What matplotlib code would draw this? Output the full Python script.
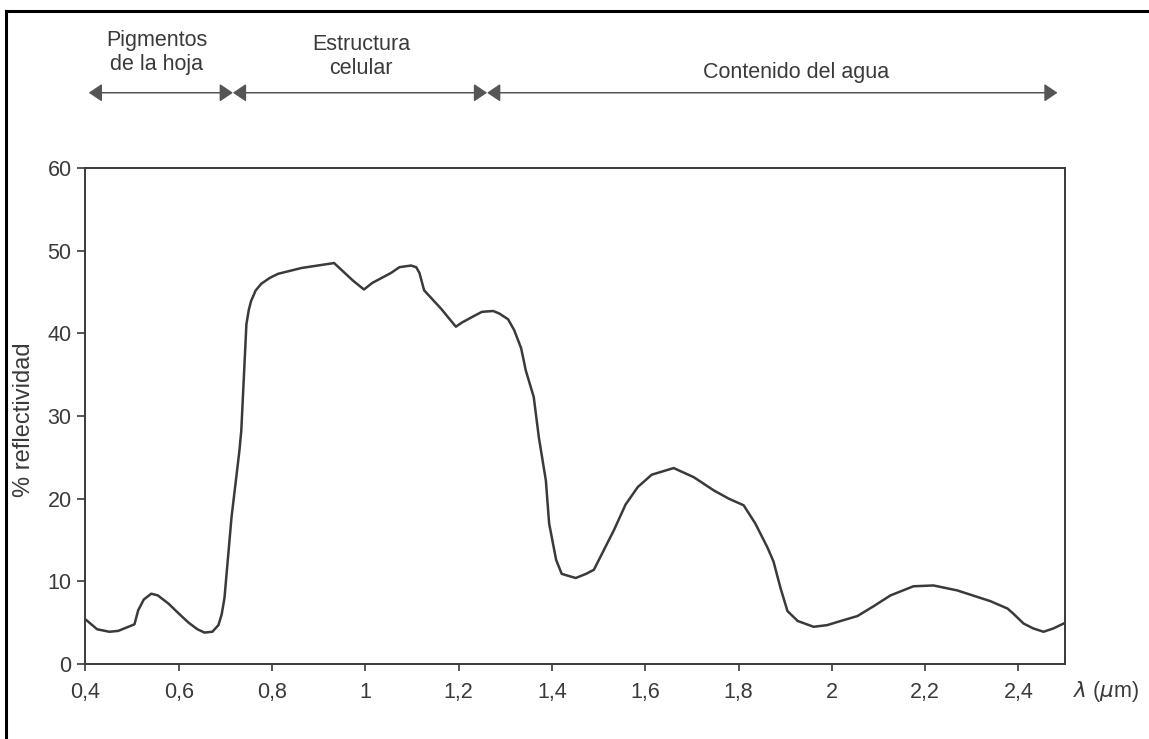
import matplotlib
matplotlib.use('Agg')
import matplotlib.pyplot as plt
from matplotlib.lines import Line2D

plt.rcParams['font.family'] = ['Liberation Sans', 'DejaVu Sans']
plt.rcParams['mathtext.fontset'] = 'dejavusans'

# wavelength (um) and % reflectance
wavelength = [0.402, 0.425, 0.451, 0.470, 0.492, 0.505, 0.513, 0.525, 0.541, 0.555,
              0.578, 0.600, 0.621, 0.640, 0.655, 0.672, 0.685, 0.692, 0.698, 0.713,
              0.730, 0.734, 0.745, 0.750, 0.755, 0.765, 0.777, 0.795, 0.813, 0.863,
              0.933, 0.973, 0.997, 1.015, 1.055, 1.073, 1.098, 1.109, 1.116, 1.126,
              1.162, 1.194, 1.207, 1.233, 1.250, 1.274, 1.287, 1.306, 1.319, 1.334,
              1.344, 1.361, 1.372, 1.387, 1.394, 1.409, 1.421, 1.451, 1.473, 1.490,
              1.533, 1.558, 1.584, 1.614, 1.661, 1.704, 1.747, 1.779, 1.811, 1.836,
              1.862, 1.875, 1.890, 1.905, 1.927, 1.961, 1.990, 2.019, 2.055, 2.090,
              2.126, 2.175, 2.218, 2.269, 2.340, 2.377, 2.389, 2.411, 2.432, 2.454,
              2.475, 2.501]
reflectance = [5.3, 4.2, 3.9, 4.0, 4.5, 4.8, 6.5, 7.8, 8.5, 8.3,
               7.3, 6.1, 5.0, 4.2, 3.8, 3.9, 4.7, 6.0, 8.0, 17.7,
               25.8, 28.2, 41.1, 42.8, 43.9, 45.2, 46.0, 46.7, 47.2, 47.9,
               48.5, 46.4, 45.3, 46.1, 47.3, 48.0, 48.2, 48.0, 47.3, 45.2,
               43.0, 40.8, 41.3, 42.1, 42.6, 42.7, 42.4, 41.7, 40.4, 38.2,
               35.5, 32.3, 27.4, 22.2, 17.0, 12.6, 10.9, 10.4, 10.9, 11.4,
               16.2, 19.3, 21.4, 22.9, 23.7, 22.6, 21.0, 20.0, 19.2, 17.0,
               14.1, 12.4, 9.2, 6.4, 5.2, 4.5, 4.7, 5.2, 5.8, 7.0,
               8.3, 9.4, 9.5, 8.9, 7.6, 6.7, 6.1, 4.9, 4.3, 3.9,
               4.3, 5.0]

xticks = [0.4, 0.6, 0.8, 1.0, 1.2, 1.4, 1.6, 1.8, 2.0, 2.2, 2.4]
xtick_labels = ['0,4', '0,6', '0,8', '1', '1,2', '1,4', '1,6', '1,8', '2', '2,2', '2,4']
yticks = [0, 10, 20, 30, 40, 50, 60]

# spectral regions along the top: boundaries and labels
region_edges = [0.407, 0.716, 1.261, 2.484]
region_labels = ['Pigmentos\nde la hoja', 'Estructura\ncelular', 'Contenido del agua']
region_label_x = [0.553, 0.991, 1.924]
region_label_y = [71.8, 71.4, 70.9]
arrow_y = 69.1

ink = '#3a3a3a'
fs = 15.5

fig = plt.figure(figsize=(11.49, 7.39), dpi=100)
ax = fig.add_axes([0.0744, 0.1015, 0.8525, 0.6712])

ax.plot(wavelength, reflectance, color=ink, lw=1.8, solid_joinstyle='round')

ax.set_xlim(0.4, 2.5)
ax.set_ylim(0, 60)
ax.set_xticks(xticks)
ax.set_xticklabels(xtick_labels)
ax.set_yticks(yticks)
ax.tick_params(axis='x', direction='out', length=5, width=1.2, colors=ink,
               labelsize=fs, pad=8)
ax.tick_params(axis='y', direction='out', length=6, width=1.2, colors=ink,
               labelsize=fs, pad=4)
for s in ax.spines.values():
    s.set_color(ink)
    s.set_linewidth(1.4)

# arrows marking the regions
for i in range(len(region_labels)):
    ax.annotate('', xy=(region_edges[i], arrow_y), xytext=(region_edges[i + 1], arrow_y),
                xycoords='data', annotation_clip=False,
                arrowprops=dict(arrowstyle='<|-|>,head_length=0.4,head_width=0.27',
                                mutation_scale=20, color='#555555', lw=1.1,
                                shrinkA=0, shrinkB=0))
    ax.text(region_label_x[i], region_label_y[i], region_labels[i], ha='center',
            va='baseline', multialignment='center', fontsize=fs, color=ink,
            linespacing=1.2, clip_on=False)

ax.annotate(r'$\lambda$ ($\mu$m)', xy=(1, 0), xycoords='axes fraction',
            xytext=(6, -11), textcoords='offset points', ha='left', va='top',
            fontsize=fs, color=ink)

fig.text(24 / 1149, 1 - 420 / 739, '% reflectividad', rotation=90, ha='center',
         va='center', fontsize=17, color=ink)

# scan frame on the left and top edges
fig.add_artist(Line2D([6 / 1149, 6 / 1149], [0, 1 - 11 / 739], color='black', lw=2.2))
fig.add_artist(Line2D([6 / 1149, 1], [1 - 11 / 739, 1 - 11 / 739], color='black', lw=2.2))

fig.savefig('out.png', dpi=100)
